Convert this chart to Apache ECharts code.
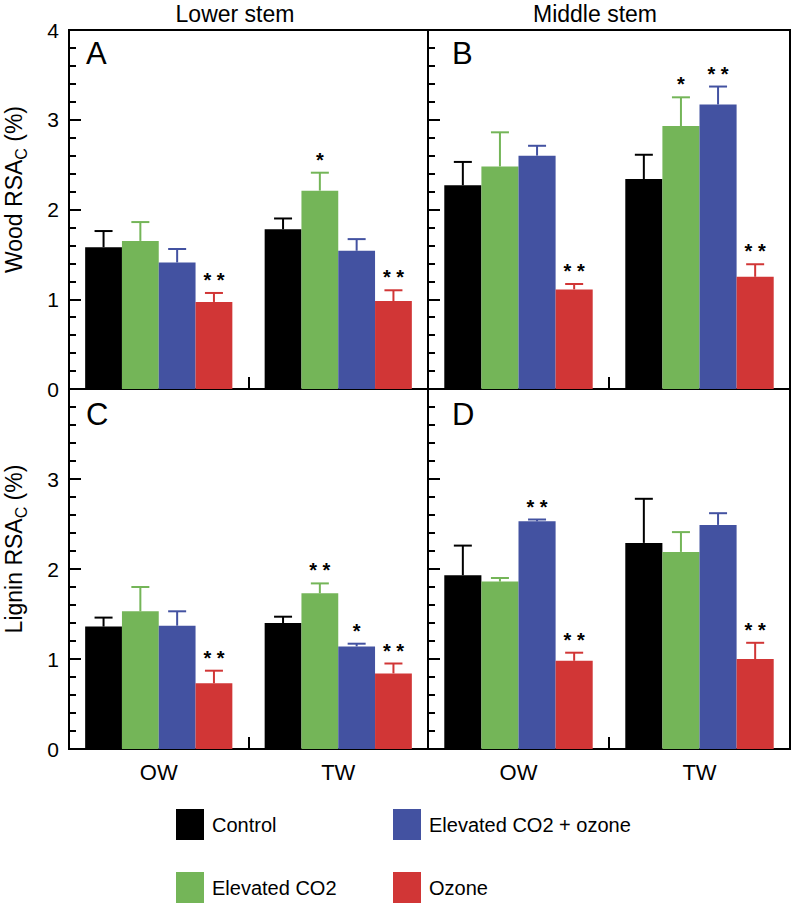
<!DOCTYPE html>
<html>
<head>
<meta charset="utf-8">
<script src="https://cdn.jsdelivr.net/npm/echarts@6/dist/echarts.min.js"></script>
<style>html,body{margin:0;padding:0;background:#fff;}#chart{width:793px;height:905px;}</style>
</head>
<body>
<div id="chart"></div>
<script>
// ---------- data ----------
const categories = ['OW', 'TW'];
const seriesNames = ['Control', 'Elevated CO2', 'Elevated CO2 + ozone', 'Ozone'];
const yTickValues = [0, 1, 2, 3, 4];
const columnTitles = ['Lower stem', 'Middle stem'];
const panelLetters = ['A', 'B', 'C', 'D'];
const rowLabels = ['Wood RSA', 'Lignin RSA'];

// each panel: one row per series, values for [OW, TW]
const woodLowerMean = [[1.58, 1.78], [1.65, 2.21], [1.41, 1.54], [0.97, 0.98]];
const woodLowerErr  = [[0.18, 0.12], [0.21, 0.20], [0.15, 0.13], [0.10, 0.12]];
const woodLowerSig  = [['', ''], ['', '*'], ['', ''], ['* *', '* *']];

const woodMiddleMean = [[2.27, 2.34], [2.48, 2.93], [2.60, 3.17], [1.11, 1.25]];
const woodMiddleErr  = [[0.26, 0.27], [0.38, 0.32], [0.11, 0.20], [0.06, 0.14]];
const woodMiddleSig  = [['', ''], ['', '*'], ['', '* *'], ['* *', '* *']];

const ligninLowerMean = [[1.36, 1.40], [1.53, 1.73], [1.37, 1.14], [0.73, 0.84]];
const ligninLowerErr  = [[0.10, 0.07], [0.27, 0.11], [0.16, 0.03], [0.14, 0.11]];
const ligninLowerSig  = [['', ''], ['', '* *'], ['', '*'], ['* *', '* *']];

const ligninMiddleMean = [[1.93, 2.29], [1.86, 2.19], [2.53, 2.49], [0.98, 1.00]];
const ligninMiddleErr  = [[0.33, 0.49], [0.04, 0.22], [0.02, 0.13], [0.09, 0.18]];
const ligninMiddleSig  = [['', ''], ['', ''], ['* *', ''], ['* *', '* *']];

// ---------- styling / layout ----------
const colors = ['#000000', '#74b558', '#4352a1', '#d13636'];
const FONT = 'Liberation Sans, Arial, Helvetica, sans-serif';
const panels = [
  {mean: woodLowerMean, err: woodLowerErr, sig: woodLowerSig},
  {mean: woodMiddleMean, err: woodMiddleErr, sig: woodMiddleSig},
  {mean: ligninLowerMean, err: ligninLowerErr, sig: ligninLowerSig},
  {mean: ligninMiddleMean, err: ligninMiddleErr, sig: ligninMiddleSig}
];
const gridBoxes = [
  {left: 69, top: 30, width: 359, height: 359},
  {left: 428, top: 30, width: 362, height: 359},
  {left: 69, top: 389, width: 359, height: 360},
  {left: 428, top: 389, width: 362, height: 360}
];
const GAP = 0.18;

const grid = gridBoxes.map(b => Object.assign({show: true, borderColor: '#000', borderWidth: 2, containLabel: false}, b));

const xAxis = panels.map((p, i) => ({
  type: 'category', gridIndex: i, data: categories,
  axisLine: {show: true, lineStyle: {color: '#000', width: 2}},
  axisTick: {show: true, inside: true, length: 12, alignWithLabel: false, interval: 0, lineStyle: {color: '#000', width: 2}},
  axisLabel: {show: i >= 2, fontSize: 22, color: '#000', margin: 12, fontFamily: FONT},
  splitLine: {show: false}
}));

const yAxis = panels.map((p, i) => {
  const left = i % 2 === 0;
  const ax = {
    type: 'value', gridIndex: i, min: yTickValues[0], max: yTickValues[yTickValues.length - 1], interval: 1,
    axisLine: {show: true, lineStyle: {color: '#000', width: 2}},
    axisTick: {show: true, inside: true, length: 12, lineStyle: {color: '#000', width: 2}},
    minorTick: {show: true, splitNumber: 5, length: 7, lineStyle: {color: '#000', width: 2}},
    splitLine: {show: false},
    axisLabel: {
      show: left, fontSize: 21, color: '#000', margin: 10, fontFamily: FONT,
      formatter: v => (i === 2 && v === 4) ? '' : String(v)
    }
  };
  if (left) {
    const lbl = rowLabels[i === 0 ? 0 : 1];
    ax.name = '{a|' + lbl + '}{s|C}{a| (%)}';
    ax.nameLocation = 'middle';
    ax.nameRotate = 90;
    ax.nameGap = 40;
    ax.nameTextStyle = {
      padding: [0, 0, 0, 40],
      rich: {
        a: {fontSize: 23, lineHeight: 30, color: '#000', fontFamily: FONT},
        s: {fontSize: 16, lineHeight: 16, verticalAlign: 'bottom', color: '#000', fontFamily: FONT}
      }
    };
  }
  return ax;
});

const series = [];
panels.forEach((p, pi) => {
  seriesNames.forEach((name, si) => {
    series.push({
      type: 'bar', name: name, xAxisIndex: pi, yAxisIndex: pi,
      data: p.mean[si], barGap: 0, barCategoryGap: (GAP * 100) + '%',
      itemStyle: {color: colors[si]}, silent: true, animation: false
    });
  });
  const items = [];
  seriesNames.forEach((name, si) => {
    categories.forEach((c, ci) => {
      items.push({value: [ci, p.mean[si][ci], p.err[si][ci], si], sig: p.sig[si][ci]});
    });
  });
  series.push({
    type: 'custom', xAxisIndex: pi, yAxisIndex: pi, silent: true, animation: false, z: 5,
    data: items.map(d => d.value),
    renderItem: function (params, api) {
      const ci = api.value(0), m = api.value(1), e = api.value(2), si = api.value(3);
      const catW = api.size([1, 0])[0];
      const barW = catW * (1 - GAP) / 4;
      const base = api.coord([ci, m]);
      const top = api.coord([ci, m + e]);
      const x = base[0] - catW * (1 - GAP) / 2 + (si + 0.5) * barW;
      const col = colors[si];
      const children = [
        {type: 'line', shape: {x1: x, y1: base[1], x2: x, y2: top[1]}, style: {stroke: col, lineWidth: 2}},
        {type: 'line', shape: {x1: x - 9, y1: top[1], x2: x + 9, y2: top[1]}, style: {stroke: col, lineWidth: 2}}
      ];
      const sig = items[params.dataIndex].sig;
      if (sig) {
        children.push({type: 'text', style: {text: sig, x: x, y: top[1] - 13, align: 'center', verticalAlign: 'middle',
          fontSize: 20, fontWeight: 'bold', fill: '#000', fontFamily: FONT}});
      }
      return {type: 'group', children: children};
    }
  });
});

const graphic = [];
columnTitles.forEach((t, i) => {
  graphic.push({type: 'text', x: [235, 595][i], y: 14,
    style: {text: t, fontSize: 23, fill: '#000', fontFamily: FONT, align: 'center', verticalAlign: 'middle'}});
});
panelLetters.forEach((t, i) => {
  graphic.push({type: 'text', x: [86, 452, 86, 452][i], y: [53, 53, 414, 414][i],
    style: {text: t, fontSize: 31, fill: '#000', fontFamily: FONT, align: 'left', verticalAlign: 'middle'}});
});

const legendPos = [
  {name: 'Control', left: 176, top: 809},
  {name: 'Elevated CO2 + ozone', left: 393, top: 809},
  {name: 'Elevated CO2', left: 176, top: 872},
  {name: 'Ozone', left: 393, top: 872}
];
const legend = legendPos.map(l => ({
  data: [l.name], left: l.left, top: l.top, padding: 0, itemWidth: 28, itemHeight: 31, icon: 'rect',
  selectedMode: false,
  textStyle: {fontSize: 20, color: '#000', fontFamily: FONT, padding: [0, 0, 0, 3]}
}));

const chart = echarts.init(document.getElementById('chart'), null, {renderer: 'svg', width: 793, height: 905});
chart.setOption({
  backgroundColor: '#fff', animation: false,
  textStyle: {fontFamily: FONT},
  grid, xAxis, yAxis, series, graphic, legend
});
</script>
</body>
</html>
